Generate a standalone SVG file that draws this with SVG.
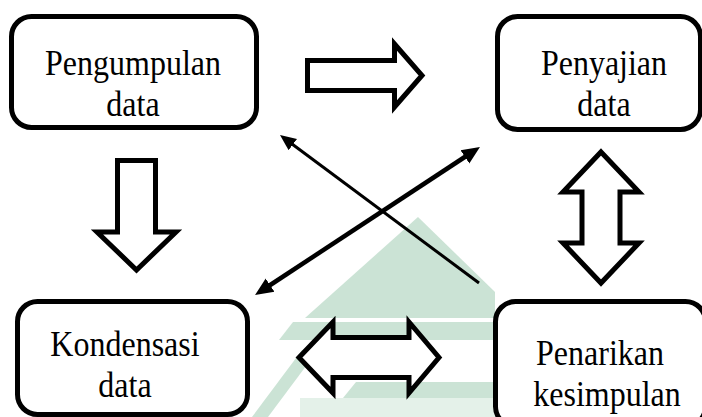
<svg xmlns="http://www.w3.org/2000/svg" width="702" height="417" viewBox="0 0 702 417">
<defs>
<style>
.box{fill:#fff;stroke:#000;stroke-width:5}
.blk{fill:#fff;stroke:#000;stroke-width:5;stroke-linejoin:miter;stroke-miterlimit:10}
.lbl{font-size:32px;fill:#000;text-anchor:middle}
.wm{fill:#cbe3d5}
.wm2{fill:#e4f1e9}
</style>
<marker id="hThin" markerUnits="userSpaceOnUse" viewBox="0 -8 18 16" refX="6" refY="0" markerWidth="18" markerHeight="16" orient="auto-start-reverse">
<path d="M0,-7 L16,0 L0,7 Z" fill="#000"/>
</marker>
<marker id="hThick" markerUnits="userSpaceOnUse" viewBox="0 -9 20 18" refX="8" refY="0" markerWidth="20" markerHeight="18" orient="auto-start-reverse">
<path d="M0,-8 L18,0 L0,8 Z" fill="#000"/>
</marker>
</defs>
<rect width="702" height="417" fill="#fff"/>
<g id="watermark">
<rect class="wm2" x="300" y="398" width="200" height="19"/>
<polygon class="wm" points="305,318 418,217 495,292 495,318"/>
<polygon class="wm" points="279,340 293,322 495,322 495,340"/>
<polygon class="wm" points="343,398 356,382 495,382 495,398"/>
<polygon class="wm" points="252,417 268,417 318,350 302,350"/>
</g>
<g font-family="'Liberation Serif', 'Times New Roman', serif">
<g id="node-pengumpulan">
<rect class="box" x="11.5" y="16.5" width="245" height="111" rx="20"/>
<text class="lbl" transform="translate(133 0) scale(1 1.15)"><tspan x="0" y="65.22">Pengumpulan</tspan><tspan x="0" y="100.87">data</tspan></text>
</g>
<g id="node-penyajian">
<rect class="box" x="497.5" y="16.5" width="203" height="113" rx="20"/>
<text class="lbl" transform="translate(604 0) scale(1 1.15)"><tspan x="0" y="65.22">Penyajian</tspan><tspan x="0" y="100.87">data</tspan></text>
</g>
<g id="node-kondensasi">
<rect class="box" x="17.5" y="301.5" width="230" height="113" rx="20"/>
<text class="lbl" transform="translate(125 0) scale(1 1.15)"><tspan x="0" y="309.57">Kondensasi</tspan><tspan x="0" y="345.22">data</tspan></text>
</g>
<g id="node-penarikan">
<rect class="box" x="495.5" y="301.5" width="210" height="125" rx="20"/>
<text class="lbl" transform="translate(600 0) scale(1 1.15)"><tspan x="0" y="317.39">Penarikan</tspan><tspan x="7" y="353.04">kesimpulan</tspan></text>
</g>
</g>
<g id="connectors">
<path class="blk" d="M307.5,60.5 H394.5 V44 L422,75.5 L394.5,107 V90.5 H307.5 Z"/>
<path class="blk" d="M117.5,160.5 H155.5 V232 H176 L136.5,270 L97,232 H117.5 Z"/>
<path class="blk" d="M601,152 L639,192 H620 V243 H639 L601,283 L563,243 H582 V192 H563 Z"/>
<path class="blk" d="M299,357.5 L333,322 V337.5 H409 V322 L439,357.5 L409,393 V377.5 H333 V393 Z"/>
<line x1="479" y1="283" x2="288" y2="141" stroke="#000" stroke-width="3" marker-end="url(#hThin)"/>
<line x1="263.4" y1="289.5" x2="471.6" y2="152.5" stroke="#000" stroke-width="4.5" marker-start="url(#hThick)" marker-end="url(#hThick)"/>
</g>
</svg>
